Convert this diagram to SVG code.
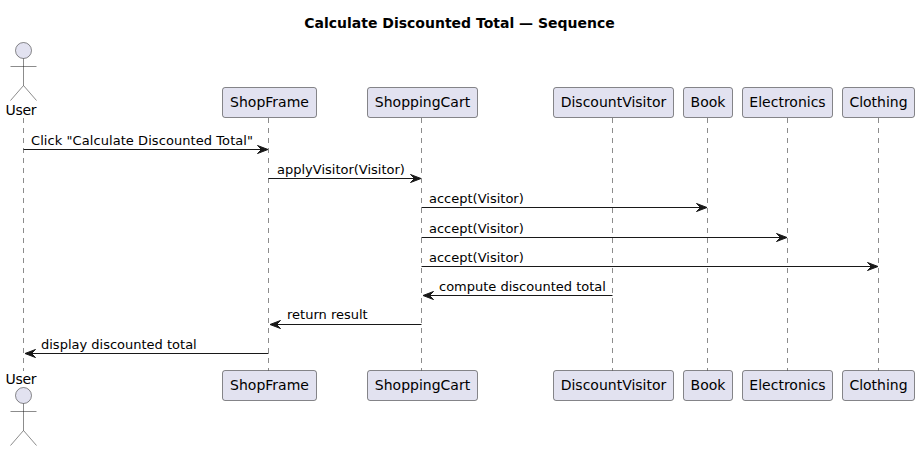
<svg xmlns="http://www.w3.org/2000/svg" width="919" height="451" viewBox="0 0 919 451">
<style>
text{font-family:"DejaVu Sans",sans-serif;fill:#000}
.t{font-size:14px;font-weight:bold}
.n{font-size:14px}
.m{font-size:13px}
.b{fill:#E2E2F0;stroke:#181818;stroke-width:.5}
.a{fill:#E2E2F0;stroke:#181818;stroke-width:.5}
.l{stroke:#181818;stroke-width:.5;stroke-dasharray:5 5;fill:none}
.c{stroke:#181818;stroke-width:1;fill:none}
.h{fill:#181818;stroke:#181818;stroke-width:1}
</style>
<defs>
<g id="actor"><circle class="a" cx="0" cy="8" r="8"/><path class="l" style="stroke-dasharray:none" d="M0 16V43M-13 24H13M0 43L-13 58M0 43L13 58"/></g>
</defs>
<rect width="919" height="451" fill="#fff"/>
<text class="t" x="459.5" y="28" text-anchor="middle">Calculate Discounted Total — Sequence</text>
<g id="lifelines">
<path class="l" d="M23.500 118V371"/><path class="l" d="M268.500 118V371"/><path class="l" d="M421.500 118V371"/><path class="l" d="M612.500 118V371"/><path class="l" d="M707.500 118V371"/><path class="l" d="M787.500 118V371"/><path class="l" d="M878.500 118V371"/>
</g>
<g id="connectors">
<path class="c" d="M23.500 149.500H264"/><path class="h" d="M257.500 145.500L268 149.500L257.500 153.500L261.500 149.500Z"/>
<path class="c" d="M268.500 178.500H417"/><path class="h" d="M410.500 174.500L421 178.500L410.500 182.500L414.500 178.500Z"/>
<path class="c" d="M421.500 207.500H703"/><path class="h" d="M696.500 203.500L707 207.500L696.500 211.500L700.500 207.500Z"/>
<path class="c" d="M421.500 237.500H783"/><path class="h" d="M776.500 233.500L787 237.500L776.500 241.500L780.500 237.500Z"/>
<path class="c" d="M421.500 266.500H874"/><path class="h" d="M867.500 262.500L878 266.500L867.500 270.500L871.500 266.500Z"/>
<path class="c" d="M427 295.500H612.500"/><path class="h" d="M433.500 291.500L423 295.500L433.500 299.500L429.500 295.500Z"/>
<path class="c" d="M274 324.500H421.500"/><path class="h" d="M280.500 320.500L270 324.500L280.500 328.500L276.500 324.500Z"/>
<path class="c" d="M29 353.500H268.500"/><path class="h" d="M35.500 349.500L25 353.500L35.500 357.500L31.500 353.500Z"/>
<text class="m" x="31" y="145" textLength="222">Click "Calculate Discounted Total"</text>
<text class="m" x="277" y="174">applyVisitor(Visitor)</text>
<text class="m" x="429" y="203">accept(Visitor)</text>
<text class="m" x="429" y="233">accept(Visitor)</text>
<text class="m" x="429" y="262">accept(Visitor)</text>
<text class="m" x="439" y="291">compute discounted total</text>
<text class="m" x="287" y="319">return result</text>
<text class="m" x="41" y="349">display discounted total</text>
</g>
<g id="user-top"><use href="#actor" x="23.500" y="42.500"/><text class="n" x="5.500" y="115" textLength="31">User</text></g>
<g id="user-bottom"><use href="#actor" x="23.500" y="387.500"/><text class="n" x="5.500" y="384" textLength="31">User</text></g>
<g id="shopframe-top"><rect class="b" x="222.500" y="87.500" width="94" height="30" rx="2.500"/><text class="n" x="269.500" y="107" text-anchor="middle">ShopFrame</text></g>
<g id="shopframe-bottom"><rect class="b" x="222.500" y="370.500" width="94" height="30" rx="2.500"/><text class="n" x="269.500" y="390" text-anchor="middle">ShopFrame</text></g>
<g id="shoppingcart-top"><rect class="b" x="367.500" y="87.500" width="110" height="30" rx="2.500"/><text class="n" x="422.500" y="107" text-anchor="middle">ShoppingCart</text></g>
<g id="shoppingcart-bottom"><rect class="b" x="367.500" y="370.500" width="110" height="30" rx="2.500"/><text class="n" x="422.500" y="390" text-anchor="middle">ShoppingCart</text></g>
<g id="discountvisitor-top"><rect class="b" x="553.500" y="87.500" width="120" height="30" rx="2.500"/><text class="n" x="613.500" y="107" text-anchor="middle">DiscountVisitor</text></g>
<g id="discountvisitor-bottom"><rect class="b" x="553.500" y="370.500" width="120" height="30" rx="2.500"/><text class="n" x="613.500" y="390" text-anchor="middle">DiscountVisitor</text></g>
<g id="book-top"><rect class="b" x="683.500" y="87.500" width="49" height="30" rx="2.500"/><text class="n" x="708" y="107" text-anchor="middle">Book</text></g>
<g id="book-bottom"><rect class="b" x="683.500" y="370.500" width="49" height="30" rx="2.500"/><text class="n" x="708" y="390" text-anchor="middle">Book</text></g>
<g id="electronics-top"><rect class="b" x="742.500" y="87.500" width="90" height="30" rx="2.500"/><text class="n" x="787.500" y="107" text-anchor="middle">Electronics</text></g>
<g id="electronics-bottom"><rect class="b" x="742.500" y="370.500" width="90" height="30" rx="2.500"/><text class="n" x="787.500" y="390" text-anchor="middle">Electronics</text></g>
<g id="clothing-top"><rect class="b" x="842.500" y="87.500" width="72" height="30" rx="2.500"/><text class="n" x="878.500" y="107" text-anchor="middle">Clothing</text></g>
<g id="clothing-bottom"><rect class="b" x="842.500" y="370.500" width="72" height="30" rx="2.500"/><text class="n" x="878.500" y="390" text-anchor="middle">Clothing</text></g>
</svg>
